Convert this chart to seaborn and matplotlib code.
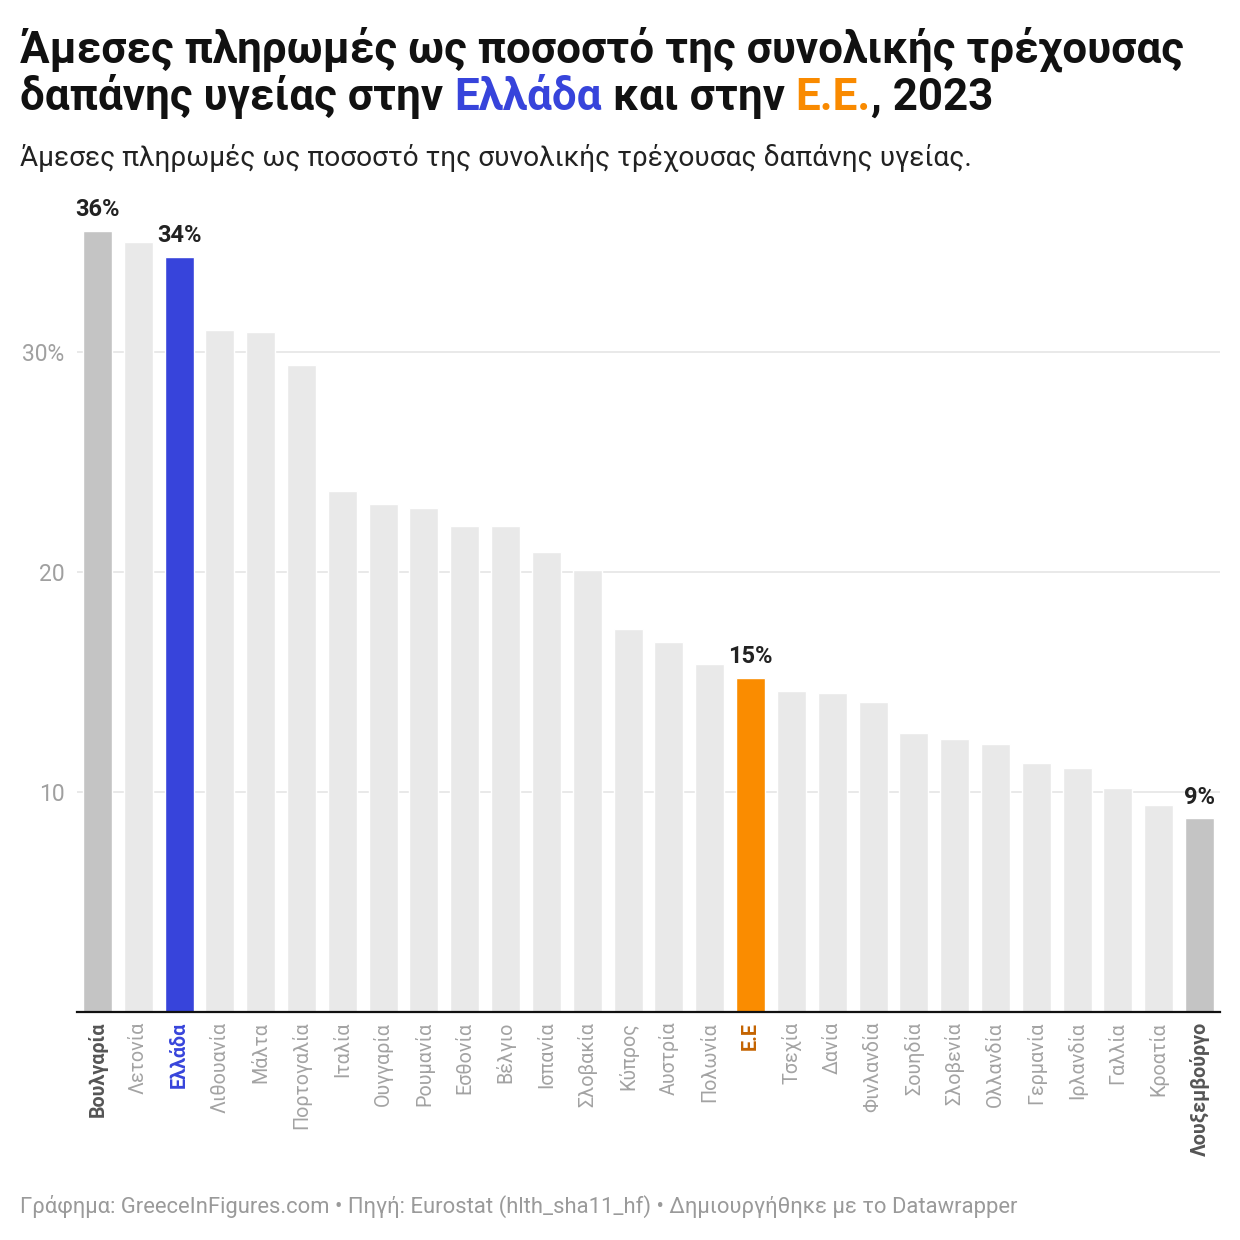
import matplotlib
matplotlib.use("Agg")
import matplotlib.pyplot as plt
import seaborn as sns

# Data
countries = ["Βουλγαρία", "Λετονία", "Ελλάδα", "Λιθουανία", "Μάλτα", "Πορτογαλία",
             "Ιταλία", "Ουγγαρία", "Ρουμανία", "Εσθονία", "Βέλγιο", "Ισπανία",
             "Σλοβακία", "Κύπρος", "Αυστρία", "Πολωνία", "Ε.Ε", "Τσεχία", "Δανία",
             "Φινλανδία", "Σουηδία", "Σλοβενία", "Ολλανδία", "Γερμανία", "Ιρλανδία",
             "Γαλλία", "Κροατία", "Λουξεμβούργο"]
values = [35.5, 35.0, 34.3, 31.0, 30.9, 29.4,
          23.7, 23.1, 22.9, 22.1, 22.1, 20.9,
          20.1, 17.4, 16.8, 15.8, 15.2, 14.6, 14.5,
          14.1, 12.7, 12.4, 12.2, 11.3, 11.1,
          10.2, 9.4, 8.8]
labelled = ["Βουλγαρία", "Ελλάδα", "Ε.Ε", "Λουξεμβούργο"]
yticks = [10, 20, 30]
ytick_labels = ["10", "20", "30%"]

title_1 = "Άμεσες πληρωμές ως ποσοστό της συνολικής τρέχουσας"
title_2 = [("δαπάνης υγείας στην ", "#111111"), ("Ελλάδα", "#3744db"),
           (" και στην ", "#111111"), ("Ε.Ε.", "#f98a00"), (", 2023", "#111111")]
subtitle = "Άμεσες πληρωμές ως ποσοστό της συνολικής τρέχουσας δαπάνης υγείας."
footer = "Γράφημα: GreeceInFigures.com • Πηγή: Eurostat (hlth_sha11_hf) • Δημιουργήθηκε με το Datawrapper"

# Colours
bar_colors = {"Βουλγαρία": "#c4c4c4", "Λουξεμβούργο": "#c4c4c4",
              "Ελλάδα": "#3744db", "Ε.Ε": "#fa8c00"}
label_colors = {"Βουλγαρία": "#555555", "Λουξεμβούργο": "#555555",
                "Ελλάδα": "#3744db", "Ε.Ε": "#c46300"}
palette = [bar_colors.get(c, "#e9e9e9") for c in countries]

sns.set_style("white")
plt.rcParams["font.family"] = ["Roboto", "DejaVu Sans"]

fig = plt.figure(figsize=(12.4, 12.4), dpi=100)
ax = fig.add_axes([77 / 1240, 1 - 1012 / 1240, 1143 / 1240, 814 / 1240])

sns.barplot(x=countries, y=values, hue=countries, palette=palette, width=0.71,
            legend=False, ax=ax, saturation=1)

ax.set_xlim(-0.5, len(countries) - 0.5)
ax.set_ylim(0, 37)
ax.set_yticks(yticks)
ax.set_yticklabels(ytick_labels)
ax.grid(axis="y", color="#e3e3e3", linewidth=1.1)
ax.set_axisbelow(True)
for s in ["top", "right", "left"]:
    ax.spines[s].set_visible(False)
ax.spines["bottom"].set_color("#111111")
ax.spines["bottom"].set_linewidth(1.6)
ax.tick_params(axis="y", length=0, pad=9, labelsize=16.5, labelcolor="#a0a0a0")
ax.tick_params(axis="x", length=0, pad=7)
ax.set_xlabel("")
ax.set_ylabel("")

ax.set_xticks(range(len(countries)))
ax.set_xticklabels(countries, rotation=90, fontsize=14.2)
for lab in ax.get_xticklabels():
    name = lab.get_text()
    if name in label_colors:
        lab.set_color(label_colors[name])
        lab.set_fontweight("bold")
    else:
        lab.set_color("#a3a3a3")

# Value labels on highlighted bars
for i, (c, v) in enumerate(zip(countries, values)):
    if c in labelled:
        ax.text(i, v + 0.45, f"{round(v)}%", ha="center", va="bottom",
                fontsize=17, fontweight="bold", color="#222222")

# Title, subtitle, footer
fig.text(20 / 1240, 1 - 62 / 1240, title_1, fontsize=31.7, fontweight="bold",
         color="#111111", va="baseline")
renderer = fig.canvas.get_renderer()
x = 20 / 1240
for txt, col in title_2:
    t = fig.text(x, 1 - 110 / 1240, txt, fontsize=31.7, fontweight="bold",
                 color=col, va="baseline")
    x += t.get_window_extent(renderer).width / fig.bbox.width

fig.text(20 / 1240, 1 - 166 / 1240, subtitle, fontsize=20.2, color="#222222",
         va="baseline")
fig.text(20 / 1240, 1 - 1213 / 1240, footer, fontsize=15.8, color="#9a9a9a",
         va="baseline")

fig.savefig("out.png", dpi=100)
